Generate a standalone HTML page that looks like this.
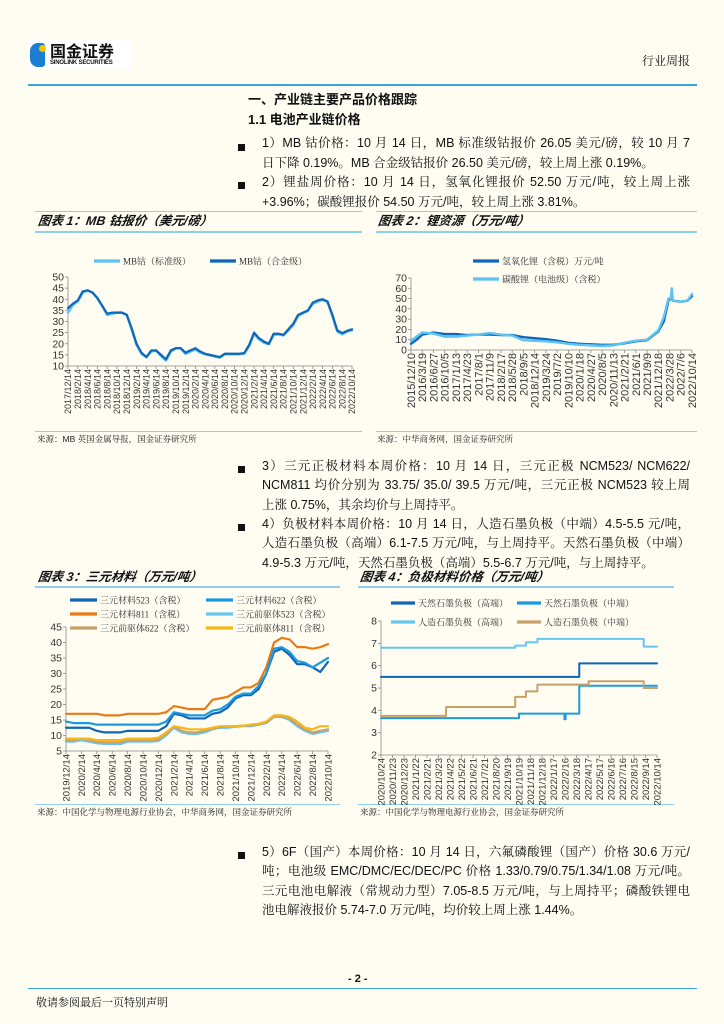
<!DOCTYPE html>
<html><head><meta charset="utf-8">
<style>
body{margin:0;background:#fffdf2;}
#page{position:relative;width:724px;height:1024px;overflow:hidden;background:#fffdf2;font-family:"Liberation Sans","Noto Serif CJK SC",serif;color:#111;}
.abs{position:absolute;}
.ln{position:absolute;left:262px;width:428px;font-size:12.5px;line-height:19px;white-space:nowrap;}
.j{text-align:justify;text-align-last:justify;}
.bul{position:absolute;left:238px;width:7px;height:7px;background:#111;}
.ttl{position:absolute;font-family:"Liberation Sans","Noto Sans CJK SC",sans-serif;font-weight:bold;font-style:italic;font-size:12.5px;line-height:15px;transform:skewX(-8deg);}
.hl{position:absolute;height:2px;background:#8fd0ee;}
.src{position:absolute;font-size:8.5px;color:#222;}
</style></head><body>
<div id="page">
<div class="abs" style="left:28px;top:40px;width:104px;height:30px;background:#fff;">
  <div class="abs" style="left:2px;top:3px;width:15px;height:24px;border-radius:8px 3px 3px 8px;background:#1a7fd0;"></div>
  <div class="abs" style="left:11px;top:5px;width:7px;height:7px;border-radius:50%;background:#f5c400;"></div>
  <div class="abs" style="left:22px;top:1px;font-family:'Noto Sans CJK SC',sans-serif;font-weight:bold;font-size:16px;line-height:18px;color:#111;">国金证券</div>
  <div class="abs" style="left:22px;top:20px;font-size:6px;font-weight:bold;color:#111;letter-spacing:-0.2px;">SINOLINK SECURITIES</div>
</div>
<div class="abs" style="left:642px;top:52px;font-size:12px;">行业周报</div>
<div class="abs" style="left:28px;top:84px;width:669px;height:2px;background:#3aa4dc;"></div>

<div class="abs" style="left:248px;top:89px;font-size:13px;font-weight:bold;font-family:'Liberation Sans','Noto Sans CJK SC',sans-serif;">一、产业链主要产品价格跟踪</div>
<div class="abs" style="left:248px;top:109px;font-size:13px;font-weight:bold;font-family:'Liberation Sans','Noto Sans CJK SC',sans-serif;">1.1 电池产业链价格</div>

<div class="bul" style="top:144px"></div>
<div class="ln j" style="top:134px">1）MB 钴价格：10 月 14 日，MB 标准级钴报价 26.05 美元/磅，较 10 月 7</div>
<div class="ln" style="top:154px">日下降 0.19%。MB 合金级钴报价 26.50 美元/磅，较上周上涨 0.19%。</div>
<div class="bul" style="top:182px"></div>
<div class="ln j" style="top:173px">2）锂盐周价格：10 月 14 日，氢氧化锂报价 52.50 万元/吨，较上周上涨</div>
<div class="ln" style="top:193px">+3.96%；碳酸锂报价 54.50 万元/吨，较上周上涨 3.81%。</div>

<div class="hl" style="left:35px;top:211px;width:327px;height:1px"></div>
<div class="ttl" style="left:38px;top:214px">图表 1：MB 钴报价（美元/磅）</div>
<div class="hl" style="left:35px;top:231px;width:327px"></div>
<div class="hl" style="left:35px;top:431px;width:327px;height:1px"></div>
<div class="src" style="left:37px;top:433px">来源：MB 英国金属导报，国金证券研究所</div>
<div class="hl" style="left:376px;top:211px;width:321px;height:1px"></div>
<div class="ttl" style="left:378px;top:214px">图表 2：锂资源（万元/吨）</div>
<div class="hl" style="left:376px;top:231px;width:321px"></div>
<div class="hl" style="left:376px;top:431px;width:321px;height:1px"></div>
<div class="src" style="left:377px;top:433px">来源：中华商务网，国金证券研究所</div>

<div class="bul" style="top:466px"></div>
<div class="ln j" style="top:457px">3）三元正极材料本周价格：10 月 14 日，三元正极 NCM523/ NCM622/</div>
<div class="ln j" style="top:476px">NCM811 均价分别为 33.75/ 35.0/ 39.5 万元/吨，三元正极 NCM523 较上周</div>
<div class="ln" style="top:496px">上涨 0.75%，其余均价与上周持平。</div>
<div class="bul" style="top:524px"></div>
<div class="ln j" style="top:515px">4）负极材料本周价格：10 月 14 日，人造石墨负极（中端）4.5-5.5 元/吨，</div>
<div class="ln j" style="top:534px">人造石墨负极（高端）6.1-7.5 万元/吨，与上周持平。天然石墨负极（中端）</div>
<div class="ln" style="top:554px">4.9-5.3 万元/吨，天然石墨负极（高端）5.5-6.7 万元/吨，与上周持平。</div>

<div class="ttl" style="left:38px;top:570px">图表 3：三元材料（万元/吨）</div>
<div class="hl" style="left:35px;top:586px;width:305px"></div>
<div class="hl" style="left:35px;top:804px;width:305px;height:1px"></div>
<div class="src" style="left:37px;top:806px">来源：中国化学与物理电源行业协会，中华商务网，国金证券研究所</div>
<div class="ttl" style="left:360px;top:570px">图表 4：负极材料价格（万元/吨）</div>
<div class="hl" style="left:358px;top:586px;width:316px"></div>
<div class="hl" style="left:358px;top:804px;width:316px;height:1px"></div>
<div class="src" style="left:360px;top:806px">来源：中国化学与物理电源行业协会，国金证券研究所</div>

<div class="bul" style="top:852px"></div>
<div class="ln j" style="top:843px">5）6F（国产）本周价格：10 月 14 日，六氟磷酸锂（国产）价格 30.6 万元/</div>
<div class="ln j" style="top:862px">吨；电池级 EMC/DMC/EC/DEC/PC 价格 1.33/0.79/0.75/1.34/1.08 万元/吨。</div>
<div class="ln j" style="top:882px">三元电池电解液（常规动力型）7.05-8.5 万元/吨，与上周持平；磷酸铁锂电</div>
<div class="ln" style="top:901px">池电解液报价 5.74-7.0 万元/吨，均价较上周上涨 1.44%。</div>

<div class="abs" style="left:348px;top:973px;font-size:11px;font-weight:bold;">- 2 -</div>
<div class="abs" style="left:28px;top:988px;width:669px;height:1px;background:#3aa4dc;"></div>
<div class="abs" style="left:36px;top:994px;font-size:11px;">敬请参阅最后一页特别声明</div>

<svg id="svg" class="abs" style="left:0;top:0" width="724" height="1024"></svg>
</div>
<script>
// ---------- Chart 1 data ----------
const c1Labels=["2017/12/14","2018/2/14","2018/4/14","2018/6/14","2018/8/14","2018/10/14","2018/12/14","2019/2/14","2019/4/14","2019/6/14","2019/8/14","2019/10/14","2019/12/14","2020/2/14","2020/4/14","2020/6/14","2020/8/14","2020/10/14","2020/12/14","2021/2/14","2021/4/14","2021/6/14","2021/8/14","2021/10/14","2021/12/14","2022/2/14","2022/4/14","2022/6/14","2022/8/14","2022/10/14"];
const c1Alloy=[36,38,39.5,43.5,44,43,40.5,37,33.5,34,34,34,33,27,20,16,14,17,17,15,13,17,18,18,16,17,18,16.5,15.5,15,14.5,14,15.5,15.5,15.5,15.5,15.8,19.5,25,22.5,21,20,24.5,24.5,24,26.5,29,33,34,35,38.5,39.5,40,39,33,26,24.8,25.8,26.5];
const c1Std=[34,37.5,39,43,44,43,40.5,37,33,33.5,34,34,33,26.5,19.5,15.5,14,16.5,17,14.5,12.5,16.5,18,18,15.5,16.5,17.5,16,15.3,14.8,14.3,13.8,15.3,15.3,15.3,15.3,15.6,19,24.5,22,20.5,19.8,24,24.2,23.8,26,28.5,32.5,33.8,34.8,38,39,39.8,38.8,32.5,25.5,24.3,25.5,26.05];
const c1Ticks=[10,15,20,25,30,35,40,45,50];
// ---------- Chart 2 data ----------
const c2Labels=["2015/12/10","2016/3/19","2016/6/27","2016/10/5","2017/1/13","2017/4/23","2017/8/1","2017/11/9","2018/2/17","2018/5/28","2018/9/5","2018/12/14","2019/3/24","2019/7/2","2019/10/10","2020/1/18","2020/4/27","2020/8/5","2020/11/13","2021/2/21","2021/6/1","2021/9/9","2021/12/18","2022/3/28","2022/7/6","2022/10/14"];
const c2X=[0,0.5,1,2,3,4,5,6,7,8,9,10,11,12,13,14,15,16,17,18,19,20,21,22,22.5,22.9,23.1,23.2,23.3,24,24.6,25];
const c2Carb=[9,13,17,16,13,13,14,15,16.5,15,14,9.5,9,8.5,7.5,6,5,4.5,4,4.5,7,9,10,19,32,50,50,60,48,47,48,54.5];
const c2Hyd=[6,10,15,17,15.5,15.5,14.5,15,15,14.5,14.5,12.5,11.5,10.5,9,7,6,5.5,5,5,6.5,8.5,9.5,18,28,48,50,50,48,47,48,52.5];
const c2Ticks=[0,10,20,30,40,50,60,70];
// ---------- Chart 3 data ----------
const c3Labels=["2019/12/14","2020/2/14","2020/4/14","2020/6/14","2020/8/14","2020/10/14","2020/12/14","2021/2/14","2021/4/14","2021/6/14","2021/8/14","2021/10/14","2021/12/14","2022/2/14","2022/4/14","2022/6/14","2022/8/14","2022/10/14"];
const c3N523=[12.5,12.5,12.5,12.5,11.5,11,11,11,11.5,11.5,11.5,11.5,11.5,13,17,16.5,15.5,15.5,15.5,17,17.5,19,22,23,23,25,30,37,38,36,33,33,32,30.5,33.75];
const c3N622=[14.5,14,14,14,13.5,13.5,13.5,13.5,13.5,13.5,13.5,13.5,13.5,14.5,17.5,17,16.5,16.5,16.5,18,18.5,20,22.5,23.5,23.5,26,30,38,38.5,37,34,33.5,32,33.5,35];
const c3N811=[17,17,17,17,17,16.5,16.5,16.5,17,17,17,17,17,17.5,19.5,19,18.5,18.5,18.5,21.5,22,22.5,24,25.5,25.5,27,32,40,41.5,41,38.5,38.5,38,38.5,39.5];
const c3P523=[8,8,8.5,8,7.5,7.3,7.3,7.2,8,8,8,8,8.2,10,12.5,11,10.5,10.5,11,12,12.5,12.5,12.8,13,13,13.5,14,16,16,15,13,11.5,10.5,11,11.5];
const c3P622=[8.5,8.5,9,8.5,8,7.8,7.8,7.8,8.5,8.5,8.5,8.5,8.7,10.5,13,11.5,11,11,11.5,12.3,12.7,12.8,13,13.2,13.2,13.6,14.2,16.2,16.3,15.5,13.5,12,11,11.5,12];
const c3P811=[9,9,9,9,8.5,8.5,8.5,8.5,9,9,9,9,9.3,11,13,12.5,12,12,12,12.5,13,13,13,13.2,13.5,13.8,14.5,16.5,16.5,16,14.5,12.5,12,13,13];
const c3Ticks=[5,10,15,20,25,30,35,40,45];
// ---------- Chart 4 data ----------
const c4Labels=["2020/10/24","2020/11/23","2020/12/23","2021/1/22","2021/2/21","2021/3/23","2021/4/22","2021/5/22","2021/6/21","2021/7/21","2021/8/20","2021/9/19","2021/10/19","2021/11/18","2021/12/18","2022/1/17","2022/2/16","2022/3/18","2022/4/17","2022/5/17","2022/6/16","2022/7/16","2022/8/15","2022/9/14","2022/10/14"];
const c4NatHighX=[0,17.24,24]; const c4NatHigh=[5.5,6.1,6.1];
const c4NatMidX=[0,12.0,15.95,16.05,17.24,24]; const c4NatMid=[3.65,3.85,3.6,3.85,5.1,5.1];
const c4ArtHighX=[0,11.67,12.6,13.6,22.84,24]; const c4ArtHigh=[6.8,6.9,7.05,7.2,6.85,6.85];
const c4ArtMidX=[0,5.66,11.67,12.6,13.6,18.05,22.84,24]; const c4ArtMid=[3.75,4.15,4.6,4.85,5.15,5.3,5.0,5.0];
const c4Ticks=[2,3,4,5,6,7,8];

const NS="http://www.w3.org/2000/svg";
const svg=document.getElementById('svg');
function mk(tag,attrs,parent){const e=document.createElementNS(NS,tag);for(const k in attrs)e.setAttribute(k,attrs[k]);(parent||svg).appendChild(e);return e;}

function chart(o){
  const g=mk('g',{});
  
  
  const sx=v=>o.x0+(v-o.xmin)/(o.xmax-o.xmin)*(o.x1-o.x0);
  const sy=v=>o.y1-(v-o.ymin)/(o.ymax-o.ymin)*(o.y1-o.y0);
  const ya=mk('line',{x1:o.x0,y1:o.y0,x2:o.x0,y2:o.y1,stroke:'#888','stroke-width':0.8},g);
  
  
  const xa=mk('line',{x1:o.x0,y1:o.y1,x2:o.x1,y2:o.y1,stroke:'#888','stroke-width':0.8},g);
  
  
  const lf=o.lfs||9;
  o.yticks.forEach(v=>{
    mk('line',{x1:o.x0-3,y1:sy(v),x2:o.x0,y2:sy(v),stroke:'#888','stroke-width':0.8},g);
    const t=mk('text',{x:o.x0-4,y:sy(v)+3.5,'text-anchor':'end','font-size':10.5,fill:'#333','font-family':'Liberation Sans, sans-serif'},g);
    t.textContent=v;
    
    
  });
  o.labels.forEach((l,i)=>{
    const xv=o.labelX(i);const x=sx(xv);
    mk('line',{x1:x,y1:o.y1,x2:x,y2:o.y1+3,stroke:'#888','stroke-width':0.8},g);
    const t=mk('text',{x:0,y:0,'text-anchor':'end','font-size':lf,fill:'#333','font-family':'Liberation Sans, sans-serif',transform:`translate(${x+lf*0.36},${o.y1+3}) rotate(-90)`},g);
    t.textContent=l;
    
    
  });
  o.series.forEach(s=>{
    let d='';
    s.xs.forEach((xv,i)=>{
      const X=sx(xv),Y=sy(s.ys[i]);
      if(i===0)d+=`M${X},${Y}`;else if(s.step)d+=`H${X}V${Y}`;else d+=`L${X},${Y}`;
    });
    const p=mk('path',{d:d,fill:'none',stroke:s.color,'stroke-width':s.w||2.2,'stroke-linejoin':'round','stroke-linecap':'round'},g);
    
    
  });
  o.legend.forEach(L=>{
    const ll=mk('line',{x1:L.x,y1:L.y,x2:L.x+L.len,y2:L.y,stroke:L.color,'stroke-width':3.2},g);
    
    
    const t=mk('text',{x:L.x+L.len+3,y:L.y+3.5,'font-size':9,fill:'#333','font-family':'Liberation Serif, Noto Serif CJK SC, serif'},g);
    t.textContent=L.text;
    
    
  });
}
const idx=a=>a.map((_,i)=>i);
chart({name:'chart1-cobalt',x0:68,x1:352,y0:277,y1:366,xmin:0,xmax:58,ymin:10,ymax:50,yticks:c1Ticks,labels:c1Labels,labelX:i=>i*2,
  series:[{key:'series-mb-standard',xs:idx(c1Std),ys:c1Std,color:'#5cc3f2',w:2.6},{key:'series-mb-alloy',xs:idx(c1Alloy),ys:c1Alloy,color:'#0f66b8',w:2.2}],
  legend:[{x:94,y:261,len:26,color:'#5cc3f2',text:'MB钴（标准级）'},{x:210,y:261,len:26,color:'#0f66b8',text:'MB钴（合金级）'}]});
chart({name:'chart2-lithium',x0:411,x1:692,y0:278,y1:350,xmin:0,xmax:25,ymin:0,ymax:70,yticks:c2Ticks,labels:c2Labels,labelX:i=>i,lfs:11,
  series:[{key:'series-lithium-hydroxide',xs:c2X,ys:c2Hyd,color:'#0f66b8',w:2.4},{key:'series-lithium-carbonate',xs:c2X,ys:c2Carb,color:'#5cc3f2',w:2.4}],
  legend:[{x:473,y:261,len:26,color:'#0f66b8',text:'氢氧化锂（含税）万元/吨'},{x:473,y:279,len:26,color:'#5cc3f2',text:'碳酸锂（电池级）（含税）'}]});
chart({name:'chart3-ternary',x0:66,x1:328,y0:627,y1:751,xmin:0,xmax:34,ymin:5,ymax:45,yticks:c3Ticks,labels:c3Labels,labelX:i=>i*2,lfs:9.5,
  series:[{key:'series-p523',xs:idx(c3P523),ys:c3P523,color:'#66c6f2'},{key:'series-p622',xs:idx(c3P622),ys:c3P622,color:'#c9a068'},{key:'series-p811',xs:idx(c3P811),ys:c3P811,color:'#f7b718'},
    {key:'series-ncm811',xs:idx(c3N811),ys:c3N811,color:'#ea7a16'},{key:'series-ncm523',xs:idx(c3N523),ys:c3N523,color:'#0f66b8'},{key:'series-ncm622',xs:idx(c3N622),ys:c3N622,color:'#1a9ae2'}],
  legend:[{x:70,y:600,len:27,color:'#0f66b8',text:'三元材料523（含税）'},{x:206,y:600,len:27,color:'#1a9ae2',text:'三元材料622（含税）'},
    {x:70,y:614,len:27,color:'#ea7a16',text:'三元材料811（含税）'},{x:206,y:614,len:27,color:'#66c6f2',text:'三元前驱体523（含税）'},
    {x:70,y:628,len:27,color:'#c9a068',text:'三元前驱体622（含税）'},{x:206,y:628,len:27,color:'#f7b718',text:'三元前驱体811（含税）'}]});
chart({name:'chart4-anode',x0:381,x1:657,y0:621,y1:755,xmin:0,xmax:24,ymin:2,ymax:8,yticks:c4Ticks,labels:c4Labels,labelX:i=>i,lfs:9.5,
  series:[{key:'series-natural-high',xs:c4NatHighX,ys:c4NatHigh,color:'#0f66b8',step:true,w:2},{key:'series-natural-mid',xs:c4NatMidX,ys:c4NatMid,color:'#1a9ae2',step:true,w:2},
    {key:'series-artificial-high',xs:c4ArtHighX,ys:c4ArtHigh,color:'#66c6f2',step:true,w:2},{key:'series-artificial-mid',xs:c4ArtMidX,ys:c4ArtMid,color:'#c9a068',step:true,w:2}],
  legend:[{x:391,y:603,len:24,color:'#0f66b8',text:'天然石墨负极（高端）'},{x:517,y:603,len:24,color:'#1a9ae2',text:'天然石墨负极（中端）'},
    {x:391,y:622,len:24,color:'#66c6f2',text:'人造石墨负极（高端）'},{x:517,y:622,len:24,color:'#c9a068',text:'人造石墨负极（中端）'}]});
</script>
</body></html>
